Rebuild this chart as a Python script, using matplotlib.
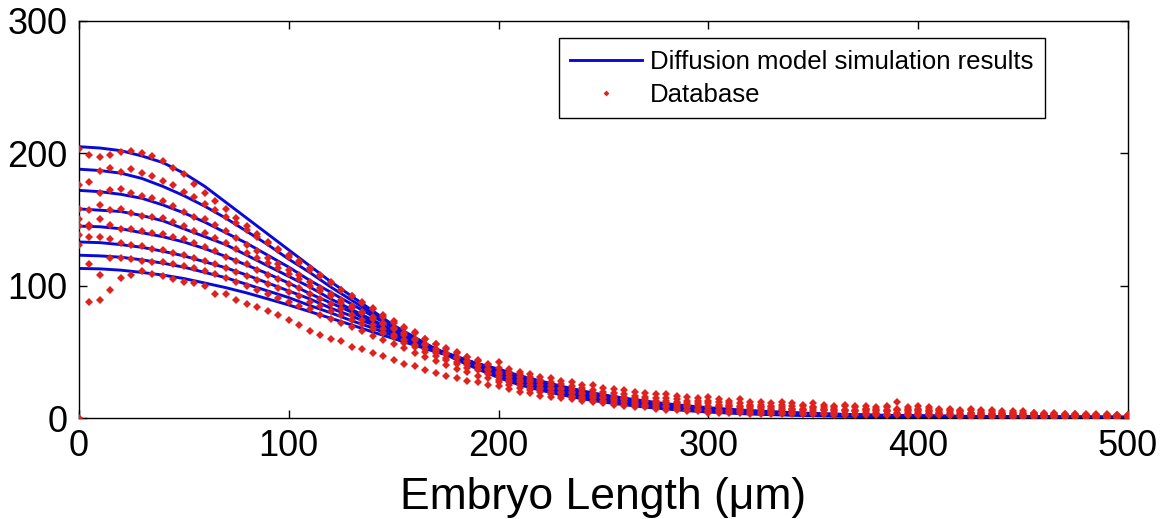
import numpy as np
import matplotlib.pyplot as plt

plt.rcParams['font.family'] = ['Liberation Sans', 'DejaVu Sans']

# positions along the embryo (um)
x_model = np.arange(0, 501, 10)
x_data = np.arange(0, 501, 5)

# diffusion model curves (one per time point)
model_curves = [
    [205, 204, 202, 198, 193, 185, 175, 163, 151, 139, 127, 115, 103, 92, 81, 70, 61, 52, 44, 37,
     30.5, 25, 21, 17.5, 14.5, 12, 10, 8.2, 6.8, 5.5, 4.5, 3.7, 3.0, 2.5, 2.1, 1.8, 1.5, 1.3, 1.1, 1.0,
     0.9, 0.8, 0.7, 0.6, 0.55, 0.5, 0.45, 0.4, 0.35, 0.3, 0.3],
    [188, 187, 185, 181, 175, 168, 160, 151, 141, 131, 120, 110, 99, 89, 79, 69, 60.5, 52, 45, 38,
     32, 27, 22.5, 18.5, 15.5, 13, 11, 9, 7.5, 6.2, 5, 4.2, 3.5, 2.9, 2.4, 2.0, 1.7, 1.5, 1.3, 1.1,
     1.0, 0.9, 0.8, 0.7, 0.6, 0.55, 0.5, 0.45, 0.4, 0.35, 0.35],
    [172, 171, 169, 166, 161, 155, 148, 140, 132, 123, 114, 104, 95, 86, 77, 68, 60, 52, 45, 39,
     33, 27.5, 23, 19.5, 16.5, 14, 11.8, 9.8, 8.2, 6.8, 5.6, 4.7, 3.9, 3.2, 2.7, 2.3, 1.9, 1.7, 1.5, 1.3,
     1.1, 1.0, 0.9, 0.8, 0.7, 0.6, 0.55, 0.5, 0.45, 0.4, 0.4],
    [158, 157, 156, 153, 149, 143, 137, 131, 123, 115, 107, 99, 90, 82, 74, 66, 58.5, 51.5, 45, 39,
     33.5, 28.5, 24, 20.5, 17.3, 14.7, 12.5, 10.5, 8.8, 7.4, 6.2, 5.2, 4.3, 3.6, 3.0, 2.6, 2.2, 1.9, 1.6, 1.4,
     1.25, 1.1, 1.0, 0.9, 0.8, 0.7, 0.65, 0.6, 0.5, 0.5, 0.45],
    [145, 144.5, 143, 140, 137, 133, 128, 122, 115.5, 109, 102, 94, 87, 80, 72, 65, 58.5, 52, 46, 40,
     35, 29.5, 25, 21.5, 18.2, 15.5, 13.2, 11.2, 9.4, 7.9, 6.6, 5.6, 4.7, 3.9, 3.3, 2.8, 2.4, 2.0, 1.7, 1.5,
     1.35, 1.2, 1.1, 1.0, 0.9, 0.8, 0.7, 0.65, 0.6, 0.55, 0.5],
    [133, 132.5, 131, 129, 126, 122.5, 118, 113.5, 108, 102, 96, 90, 83, 77, 70.5, 64, 58, 52, 46.5, 41,
     36, 30.5, 26, 22.2, 19, 16.2, 13.8, 11.7, 9.9, 8.4, 7.0, 5.9, 5.0, 4.2, 3.5, 3.0, 2.6, 2.2, 1.9, 1.6,
     1.45, 1.3, 1.15, 1.05, 0.95, 0.85, 0.75, 0.7, 0.65, 0.6, 0.55],
    [123, 122.5, 121.5, 119.5, 117, 114, 110, 106, 101, 96, 91, 85, 79.5, 73.5, 68, 62, 56.5, 51, 46, 41,
     36.5, 31, 27, 23, 19.8, 16.8, 14.4, 12.2, 10.4, 8.8, 7.4, 6.2, 5.3, 4.5, 3.8, 3.2, 2.8, 2.4, 2.0, 1.8,
     1.6, 1.4, 1.25, 1.1, 1.0, 0.9, 0.8, 0.75, 0.7, 0.65, 0.6],
    [113, 112.7, 111.7, 110, 108, 105.4, 102, 98.5, 94.5, 90, 85.4, 80.4, 75.4, 70.3, 65, 60, 55, 50, 45.5, 41,
     37, 32, 28, 24, 20.5, 17.5, 15, 12.8, 10.8, 9.2, 7.8, 6.6, 5.6, 4.8, 4.1, 3.5, 3.0, 2.6, 2.2, 1.9,
     1.7, 1.5, 1.3, 1.2, 1.1, 1.0, 0.9, 0.8, 0.7, 0.7, 0.6],
]

# measured profiles from the database
data_series = [
    [203, 199, 197, 199, 201, 202, 200, 198, 194, 189, 184, 177, 170, 164, 158, 151, 145, 139, 133, 128,
     123, 119, 113, 108, 103, 97, 92, 87, 83, 76, 72, 68, 65, 60, 56, 53, 50, 46, 44, 41,
     42, 37, 35, 33, 31, 30, 28, 27, 25, 25, 23, 22, 21, 20, 19, 18, 18, 17, 16, 15,
     16, 14, 13, 14, 12, 12, 11, 12, 11, 10, 11, 10, 9, 10, 9, 9, 8, 9, 12, 8,
     9, 8, 7, 7, 6, 7, 6, 6, 5, 5, 5, 4, 4, 4, 3, 3, 3, 3, 3, 2, 2],
    [176, 178, 187, 189, 186, 188, 185, 183, 179, 176, 171, 167, 162, 157, 152, 147, 142, 137, 132, 127,
     122, 117, 112, 107, 102, 97, 92, 88, 82, 78, 73, 69, 64, 60, 56, 52, 49, 46, 43, 40,
     38, 35, 33, 31, 29, 27, 26, 24, 23, 21, 20, 19, 18, 17, 16, 15, 15, 14, 13, 13,
     13, 12, 11, 11, 10, 10, 9, 10, 9, 9, 8, 8, 8, 9, 8, 7, 7, 8, 7, 7,
     7, 7, 6, 6, 5, 6, 5, 5, 4, 4, 4, 4, 3, 3, 3, 3, 2, 2, 2, 2, 2],
    [150, 157, 170, 172, 173, 170, 168, 166, 164, 160, 156, 152, 150, 146, 141, 136, 131, 126, 121, 116,
     112, 108, 103, 98, 94, 89, 85, 80, 76, 72, 68, 64, 60, 56, 52, 49, 46, 43, 40, 37,
     35, 33, 31, 29, 27, 25, 23, 22, 21, 19, 18, 17, 16, 15, 14, 13, 13, 12, 11, 11,
     11, 10, 10, 9, 9, 8, 8, 8, 7, 7, 8, 7, 7, 6, 6, 7, 6, 6, 6, 6,
     6, 5, 5, 5, 5, 4, 4, 4, 4, 4, 3, 3, 3, 3, 2, 2, 2, 2, 2, 2, 2],
    [158, 144, 161, 157, 158, 155, 153, 152, 151, 148, 145, 141, 140, 136, 132, 128, 125, 121, 117, 113,
     109, 105, 100, 96, 92, 87, 83, 79, 75, 71, 67, 63, 59, 55, 51, 48, 45, 42, 39, 36,
     33, 31, 29, 27, 25, 23, 22, 20, 19, 18, 16, 15, 14, 14, 13, 12, 11, 11, 10, 10,
     9, 9, 9, 8, 8, 8, 7, 7, 7, 6, 7, 6, 6, 6, 5, 6, 5, 5, 6, 5,
     5, 5, 4, 4, 4, 4, 4, 3, 3, 3, 3, 3, 3, 2, 2, 2, 2, 2, 1, 1, 1],
    [145, 146, 150, 146, 143, 143, 141, 140, 139, 137, 135, 132, 129, 126, 122, 119, 116, 112, 108, 105,
     101, 98, 94, 90, 86, 82, 78, 74, 70, 67, 63, 59, 55, 52, 49, 45, 42, 40, 37, 34,
     31, 29, 27, 25, 23, 22, 20, 19, 18, 17, 15, 14, 14, 13, 12, 11, 11, 10, 9, 9,
     8, 8, 8, 7, 7, 7, 6, 6, 6, 6, 5, 6, 5, 5, 5, 5, 4, 5, 4, 4,
     4, 4, 4, 3, 3, 3, 3, 3, 3, 2, 2, 2, 2, 2, 2, 2, 1, 1, 1, 1, 1],
    [138, 137, 137, 135, 132, 131, 130, 128, 127, 125, 123, 121, 119, 116, 113, 110, 107, 104, 101, 98,
     95, 92, 88, 85, 81, 78, 74, 71, 67, 64, 61, 57, 54, 50, 47, 44, 41, 38, 36, 33,
     29, 27, 25, 23, 22, 20, 19, 17, 16, 15, 13, 13, 12, 11, 10, 10, 9, 8, 8, 7,
     6, 6, 6, 5, 5, 5, 5, 4, 4, 4, 4, 4, 4, 3, 3, 4, 3, 3, 3, 3,
     3, 3, 3, 2, 2, 2, 2, 2, 2, 2, 2, 2, 1, 1, 1, 1, 1, 1, 1, 1, 1],
    [131, 116, 108, 121, 121, 120, 119, 118, 118, 116, 115, 113, 111, 109, 106, 103, 100, 97, 94, 91,
     88, 85, 82, 78, 75, 72, 69, 66, 62, 59, 56, 53, 49, 46, 43, 40, 37, 35, 32, 30,
     27, 25, 23, 21, 20, 18, 17, 16, 14, 13, 12, 11, 10, 10, 9, 8, 8, 7, 6, 6,
     5, 5, 5, 5, 4, 4, 4, 4, 4, 3, 3, 3, 3, 3, 3, 3, 3, 2, 3, 2,
     2, 2, 2, 2, 2, 2, 2, 2, 2, 1, 1, 1, 1, 1, 1, 1, 1, 1, 1, 1, 1],
    [0, 88, 89, 97, 106, 108, 111, 109, 107, 105, 103, 102, 100, 94, 94, 89, 86, 84, 81, 78,
     74, 70, 66, 63, 60, 58, 54, 52, 49, 47, 44, 41, 39, 36, 34, 32, 30, 28, 27, 25,
     24, 22, 20, 19, 17, 16, 15, 14, 13, 12, 11, 10, 9, 8, 8, 7, 6, 6, 5, 5,
     4, 4, 4, 4, 3, 3, 3, 3, 3, 3, 3, 3, 2, 2, 2, 2, 2, 2, 2, 2,
     2, 2, 2, 2, 1, 1, 1, 1, 1, 1, 1, 1, 1, 1, 1, 1, 1, 0, 0, 0, 0],
]

x_ticks = [0, 100, 200, 300, 400, 500]
y_ticks = [0, 100, 200, 300]

blue = '#0a0ad8'
red = '#e0221e'

fig = plt.figure(figsize=(11.61, 5.19), dpi=100)
ax = fig.add_axes([0.068, 0.1946, 0.9035, 0.765])

for i, curve in enumerate(model_curves):
    ax.plot(x_model, curve, color=blue, linewidth=2.1, zorder=2,
            label='Diffusion model simulation results' if i == 0 else None)

for i, series in enumerate(data_series):
    ax.plot(x_data, series, linestyle='none', marker='D', markersize=3.7,
            markeredgewidth=0, color=red, zorder=3,
            label='Database' if i == 0 else None)

ax.set_xlim(0, 500)
ax.set_ylim(0, 300)
ax.set_xticks(x_ticks)
ax.set_yticks(y_ticks)
ax.tick_params(direction='in', length=6, width=1, top=True, right=True,
               labelsize=26, pad=8)
for sp in ax.spines.values():
    sp.set_linewidth(1)
ax.set_xlabel('Embryo Length (μm)', fontsize=32, labelpad=9)

leg = ax.legend(loc='upper right', bbox_to_anchor=(0.921, 0.957), borderaxespad=0,
                fontsize=18.5, handlelength=2.8, handletextpad=0.3, borderpad=0.45,
                labelspacing=0.35, numpoints=1, fancybox=False, framealpha=1,
                edgecolor='black', markerscale=0.8)
leg.get_frame().set_linewidth(1)

fig.savefig('out.png', dpi=100)
